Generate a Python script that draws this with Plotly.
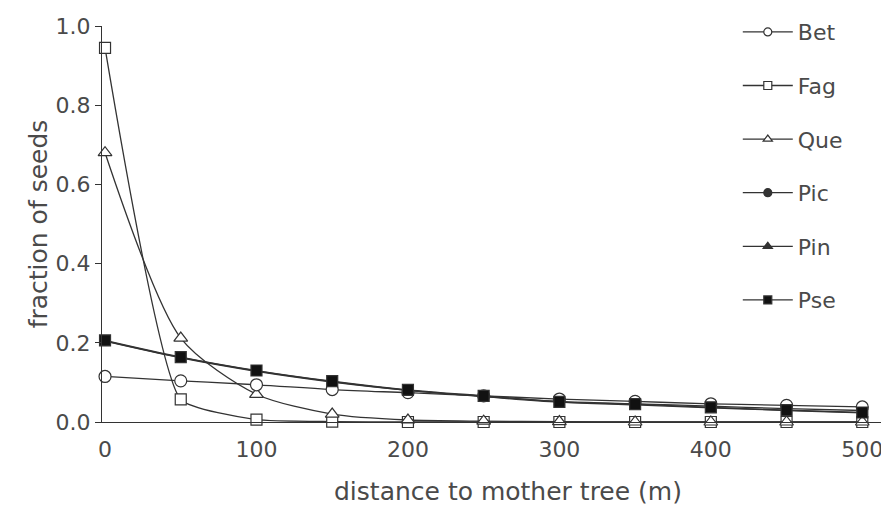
import plotly.graph_objects as go

distance = [0, 50, 100, 150, 200, 250, 300, 350, 400, 450, 500]
species = ["Bet", "Fag", "Que", "Pic", "Pin", "Pse"]
Bet = [0.115, 0.104, 0.094, 0.082, 0.074, 0.066, 0.058, 0.052, 0.046, 0.042, 0.038]
Fag = [0.945, 0.057, 0.006, 0.001, 0.0, 0.0, 0.0, 0.0, 0.0, 0.0, 0.0]
Que = [0.680, 0.212, 0.070, 0.020, 0.005, 0.002, 0.001, 0.0, 0.0, 0.0, 0.0]
Pic = [0.205, 0.163, 0.129, 0.102, 0.080, 0.065, 0.052, 0.046, 0.040, 0.034, 0.029]
Pin = [0.204, 0.162, 0.128, 0.101, 0.080, 0.064, 0.050, 0.043, 0.036, 0.029, 0.023]
Pse = [0.206, 0.164, 0.130, 0.103, 0.081, 0.066, 0.051, 0.045, 0.037, 0.030, 0.024]
x_ticks = [0, 100, 200, 300, 400, 500]
y_ticks = [0.0, 0.2, 0.4, 0.6, 0.8, 1.0]

values = {"Bet": Bet, "Fag": Fag, "Que": Que, "Pic": Pic, "Pin": Pin, "Pse": Pse}
INK = "#333333"
TXT = "#4a4a4a"
style = {
    "Bet": dict(symbol="circle", color="white", size=12, smooth=1.0),
    "Fag": dict(symbol="square", color="white", size=11, smooth=0.45),
    "Que": dict(symbol="triangle-up", color="white", size=12, smooth=0.75),
    "Pic": dict(symbol="circle", color=INK, size=9, smooth=1.0),
    "Pin": dict(symbol="triangle-up", color=INK, size=9, smooth=1.0),
    "Pse": dict(symbol="square", color="#111111", size=11, smooth=1.0),
}
draw_order = ["Pin", "Pic", "Fag", "Que", "Bet", "Pse"]

fig = go.Figure()
for name in draw_order:
    s = style[name]
    fig.add_trace(go.Scatter(
        x=distance, y=values[name], mode="lines+markers", name=name,
        line=dict(color=INK, width=1.3, shape="spline", smoothing=s["smooth"]),
        marker=dict(symbol=s["symbol"], size=s["size"], color=s["color"],
                    line=dict(color=INK, width=1.2)),
        showlegend=False, cliponaxis=False,
    ))
for name in species:
    s = style[name]
    fig.add_trace(go.Scatter(
        x=[None], y=[None], mode="lines+markers", name=name,
        line=dict(color=INK, width=1.3),
        marker=dict(symbol=s["symbol"], size=8, color=s["color"],
                    line=dict(color=INK, width=1.2)),
        legendgroup=name, showlegend=True,
    ))

fig.add_annotation(text="distance to mother tree (m)", xref="paper", yref="paper",
                   x=0.5185, y=-0.1746, xanchor="center", yanchor="middle",
                   showarrow=False, font=dict(size=25, color=TXT))

fig.update_layout(
    width=881, height=498,
    margin=dict(l=94, r=4, t=17, b=84),
    paper_bgcolor="white", plot_bgcolor="white",
    font=dict(family="DejaVu Sans", size=22, color=TXT),
    legend=dict(x=0.812, xanchor="left", y=1.035, yanchor="top",
                traceorder="grouped", tracegroupgap=22, itemwidth=50, maxheight=490,
                font=dict(size=22, color=TXT), bgcolor="rgba(0,0,0,0)"),
    xaxis=dict(range=[-2, 515], tickvals=x_ticks, ticktext=[str(v) for v in x_ticks],
               showgrid=False, zeroline=False, showline=True, linecolor=INK, linewidth=1.2,
               ticks="", ticklabelstandoff=7, automargin=False),
    yaxis=dict(range=[0, 1.0], tickvals=y_ticks, ticktext=[f"{v:.1f}" for v in y_ticks],
               showgrid=False, zeroline=False, showline=True, linecolor=INK, linewidth=1.2,
               ticks="outside", ticklen=6, tickcolor=INK, tickwidth=1.2, automargin=False,
               title=dict(text="fraction of seeds", font=dict(size=25, color=TXT), standoff=0)),
)
fig.write_html("out.html")
